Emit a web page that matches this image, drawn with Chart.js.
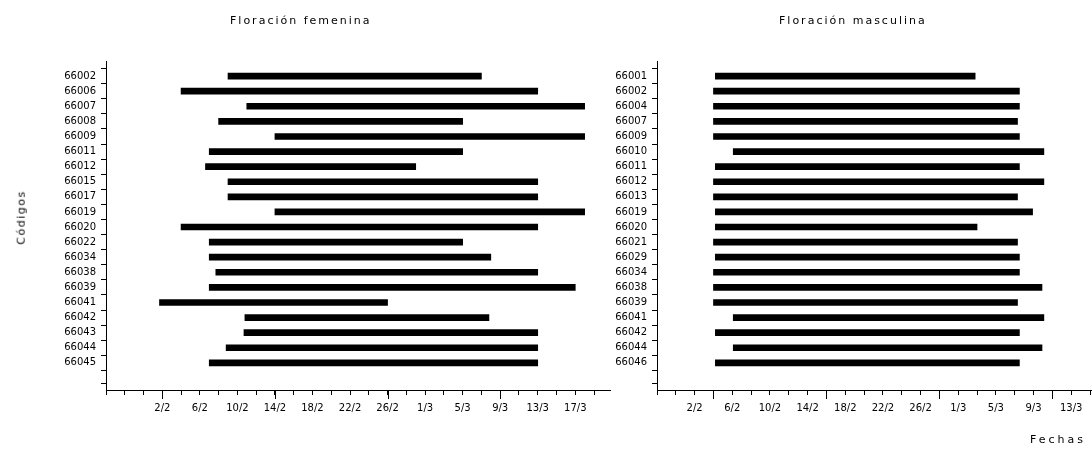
<!DOCTYPE html>
<html>
<head>
<meta charset="utf-8">
<script src="https://cdn.jsdelivr.net/npm/chart.js@4.4.0/dist/chart.umd.min.js"></script>
<style>
  body { margin: 0; background: #fff; width: 1092px; height: 450px; position: relative; overflow: hidden; font-family: "DejaVu Sans", sans-serif; }
  .box { position: absolute; top: 0; height: 450px; }
  .txt { position: absolute; font-size: 11px; letter-spacing: 2px; color: #000; white-space: nowrap; }
</style>
</head>
<body>
<div class="box" style="left:0;width:615px"><canvas id="fem"></canvas></div>
<div class="box" style="left:600px;width:497px"><canvas id="mas"></canvas></div>
<div class="txt" style="left:230px;top:14px">Floración femenina</div>
<div class="txt" style="left:779px;top:14px">Floración masculina</div>
<div class="txt" style="left:-6px;top:211px;letter-spacing:1.5px;transform:rotate(-90deg)">Códigos</div>
<div class="txt" style="left:1030px;top:433px;letter-spacing:3px">Fechas</div>
<script>
// days are day-of-year (1996, leap year): 33 = 2/2, 61 = 1/3
const codesF = ['66002', '66006', '66007', '66008', '66009', '66011', '66012', '66015', '66017', '66019',
  '66020', '66022', '66034', '66038', '66039', '66041', '66042', '66043', '66044', '66045'];
const startF = [40, 35, 42, 39, 45, 38, 37.6, 40, 40, 45, 35, 38, 38, 38.7, 38, 32.7, 41.8, 41.7, 39.8, 38];
const endF = [67, 73, 78, 65, 78, 65, 60, 73, 73, 78, 73, 65, 68, 73, 77, 57, 67.8, 73, 73, 73];

const codesM = ['66001', '66002', '66004', '66007', '66009', '66010', '66011', '66012', '66013', '66019',
  '66020', '66021', '66029', '66034', '66038', '66039', '66041', '66042', '66044', '66046'];
const startM = [35.2, 35, 35, 35, 35, 37.1, 35.2, 35, 35, 35.2, 35.2, 35, 35.2, 35, 35, 35, 37.1, 35.2, 37.1, 35.2];
const endM = [62.8, 67.5, 67.5, 67.3, 67.5, 70.1, 67.5, 70.1, 67.3, 68.9, 63, 67.3, 67.5, 67.5, 69.9, 67.3, 70.1, 67.5, 69.9, 67.5];

const firstLabel = 33; // 2/2

function fmtDay(v) {
  if (v <= 31) return v + '/1';
  if (v <= 60) return (v - 31) + '/2';
  return (v - 60) + '/3';
}

const tickFont = { family: 'DejaVu Sans', size: 10 };

// longer tick every 12 days along the date axis
const majorTicks = {
  id: 'majorTicks',
  afterDraw(chart) {
    const s = chart.scales.x;
    const ctx = chart.ctx;
    ctx.save();
    ctx.strokeStyle = '#000';
    ctx.lineWidth = 1;
    s.ticks.forEach(t => {
      if ((t.value - s.min - 6) % 12 !== 0) return;
      const px = Math.round(s.getPixelForValue(t.value)) + 0.5;
      ctx.beginPath();
      ctx.moveTo(px, s.top);
      ctx.lineTo(px, s.top + 9);
      ctx.stroke();
    });
    ctx.restore();
  }
};

function makeChart(id, codes, starts, ends, xMin, xMax, padRight, yWidth) {
  return new Chart(document.getElementById(id), {
    type: 'bar',
    data: {
      datasets: [{
        data: codes.map((c, i) => ({ x: [starts[i], ends[i]], y: i })),
        backgroundColor: '#000',
        borderWidth: 0,
        barThickness: 6
      }]
    },
    options: {
      indexAxis: 'y',
      responsive: true,
      maintainAspectRatio: false,
      animation: false,
      layout: { padding: { top: 61, right: padRight, left: 0, bottom: 0 } },
      plugins: { legend: { display: false }, tooltip: { enabled: false } },
      scales: {
        x: {
          type: 'linear',
          min: xMin,
          max: xMax,
          afterBuildTicks(s) {
            s.ticks = [];
            for (let v = xMin; v <= xMax; v += 2) s.ticks.push({ value: v });
          },
          afterFit(s) { s.height = 60; },
          grid: { drawOnChartArea: false, drawTicks: true, tickLength: 5, color: '#000' },
          border: { color: '#000' },
          ticks: {
            autoSkip: false,
            maxRotation: 0,
            padding: 7,
            color: '#000',
            font: tickFont,
            callback: v => (v >= firstLabel && (v - firstLabel) % 4 === 0) ? fmtDay(v) : ''
          }
        },
        y: {
          type: 'linear',
          reverse: true,
          offset: false,
          min: -1,
          max: 20.8,
          afterBuildTicks(s) {
            s.ticks = [];
            for (let v = -1; v <= 20; v++) s.ticks.push({ value: v });
            s.ticks.push({ value: 20.8 });
          },
          afterFit(s) { s.width = yWidth; },
          grid: { drawOnChartArea: false, drawTicks: true, tickLength: 5, color: '#000' },
          border: { color: '#000' },
          ticks: {
            autoSkip: false,
            padding: 5,
            color: '#000',
            font: tickFont,
            callback: v => codes[v] !== undefined ? codes[v] : ''
          }
        }
      }
    },
    plugins: [majorTicks]
  });
}

makeChart('fem', codesF, startF, endF, 27, 80.7, 5, 106);
makeChart('mas', codesM, startM, endM, 29, 75.2, 0, 57);
</script>
</body>
</html>
